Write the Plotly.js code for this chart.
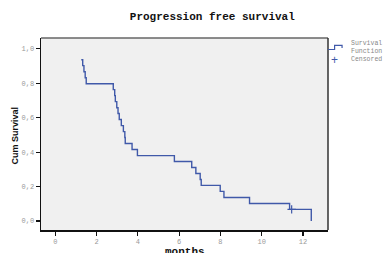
<!DOCTYPE html>
<html>
<head>
<meta charset="utf-8">
<script src="https://cdn.plot.ly/plotly-3.0.1.min.js"></script>
<style>html,body{margin:0;padding:0;background:#fff}#chart{width:386px;height:253px}</style>
</head>
<body>
<div id="chart"></div>
<script>
// Kaplan-Meier step data (time in months, cumulative survival after each event)
const eventTimes = [1.26, 1.33, 1.39, 1.45, 1.50, 2.81, 2.88, 2.91, 2.98, 3.04, 3.10, 3.20, 3.30, 3.37, 3.39, 3.72, 3.98, 5.77, 6.61, 6.81, 7.02, 7.07, 7.99, 8.17, 9.41, 11.35, 12.40];
const survival = [0.936, 0.902, 0.867, 0.832, 0.797, 0.763, 0.728, 0.693, 0.658, 0.624, 0.589, 0.554, 0.519, 0.485, 0.450, 0.415, 0.380, 0.346, 0.311, 0.276, 0.241, 0.207, 0.172, 0.137, 0.102, 0.068, 0.0];
const censoredTimes = [11.45];
const censoredSurvival = [0.068];
const xTicks = [0, 2, 4, 6, 8, 10, 12];
const yTicks = [0, 0.2, 0.4, 0.6, 0.8, 1.0];
const yTickLabels = ['0,0', '0,2', '0,4', '0,6', '0,8', '1,0'];
const titleText = 'Progression free survival';
const xTitle = 'months';
const yTitle = 'Cum Survival';
const legendLabels = ['Survival<br>Function', 'Censored'];

const blue = '#4059a9';
const mono = '"Liberation Mono", "Courier New", monospace';

const traces = [
  {x: eventTimes, y: survival, type: 'scatter', mode: 'lines', line: {shape: 'hv', color: blue, width: 1.4}, showlegend: false, hoverinfo: 'skip'},
  {x: censoredTimes, y: censoredSurvival, type: 'scatter', mode: 'markers', marker: {symbol: 'cross-thin', size: 6, line: {color: blue, width: 1.2}}, showlegend: false, hoverinfo: 'skip'}
];

const layout = {
  width: 386, height: 253,
  margin: {l: 41, r: 58, t: 38, b: 23, pad: 0},
  paper_bgcolor: '#ffffff',
  plot_bgcolor: '#f0f0f0',
  showlegend: false,
  title: {text: '<b>' + titleText + '</b>', font: {family: mono, size: 11, color: '#111'}, x: 0.55, xanchor: 'center', y: 0.935, yanchor: 'middle'},
  xaxis: {
    range: [-0.69, 13.21], tickvals: xTicks, ticktext: xTicks.map(String),
    showgrid: false, zeroline: false, showline: true, linecolor: '#111', linewidth: 1.5,
    ticks: 'outside', ticklen: 4, tickwidth: 1.2, tickcolor: '#111',
    tickfont: {family: mono, size: 7, color: '#999'}
  },
  yaxis: {
    range: [-0.052, 1.0625], tickvals: yTicks, ticktext: yTickLabels,
    showgrid: false, zeroline: false, showline: true, linecolor: '#111', linewidth: 1.5,
    ticks: 'outside', ticklen: 4, tickwidth: 1.2, tickcolor: '#111',
    tickfont: {family: mono, size: 7, color: '#999'}
  },
  shapes: [
    {type: 'line', xref: 'paper', yref: 'paper', x0: 0, x1: 1, y0: 1, y1: 1, line: {color: '#666', width: 1.5}},
    {type: 'line', xref: 'paper', yref: 'paper', x0: 1, x1: 1, y0: 0, y1: 1, line: {color: '#333', width: 1.5}},
    // legend icon (step line)
    {type: 'path', xref: 'paper', yref: 'paper', path: 'M 1.0 0.94 L 1.023 0.94 L 1.023 0.962 L 1.049 0.962 L 1.049 0.948', line: {color: blue, width: 1.2}},
  ],
  annotations: [
    {text: '<b>' + yTitle + '</b>', xref: 'paper', yref: 'paper', x: -0.092, y: 0.49, textangle: -90, showarrow: false, xanchor: 'center', yanchor: 'middle', font: {family: '"Liberation Sans", Arial, sans-serif', size: 9, color: '#111'}},
    {text: '<b>' + xTitle + '</b>', xref: 'paper', yref: 'paper', x: 0.5, y: -0.075, showarrow: false, xanchor: 'center', yanchor: 'top', font: {family: mono, size: 11, color: '#111'}},
    {text: legendLabels[0], xref: 'paper', yref: 'paper', x: 1.0715, y: 0.95, showarrow: false, xanchor: 'left', yanchor: 'middle', align: 'left', font: {family: mono, size: 6.5, color: '#888'}},
    {text: legendLabels[1], xref: 'paper', yref: 'paper', x: 1.0715, y: 0.887, showarrow: false, xanchor: 'left', yanchor: 'middle', align: 'left', font: {family: mono, size: 6.5, color: '#888'}},
    {text: '+', xref: 'paper', yref: 'paper', x: 1.0215, y: 0.887, showarrow: false, xanchor: 'center', yanchor: 'middle', font: {family: 'Arial, sans-serif', size: 12, color: blue}}
  ]
};

Plotly.newPlot('chart', traces, layout, {displayModeBar: false, staticPlot: true});
</script>
</body>
</html>
